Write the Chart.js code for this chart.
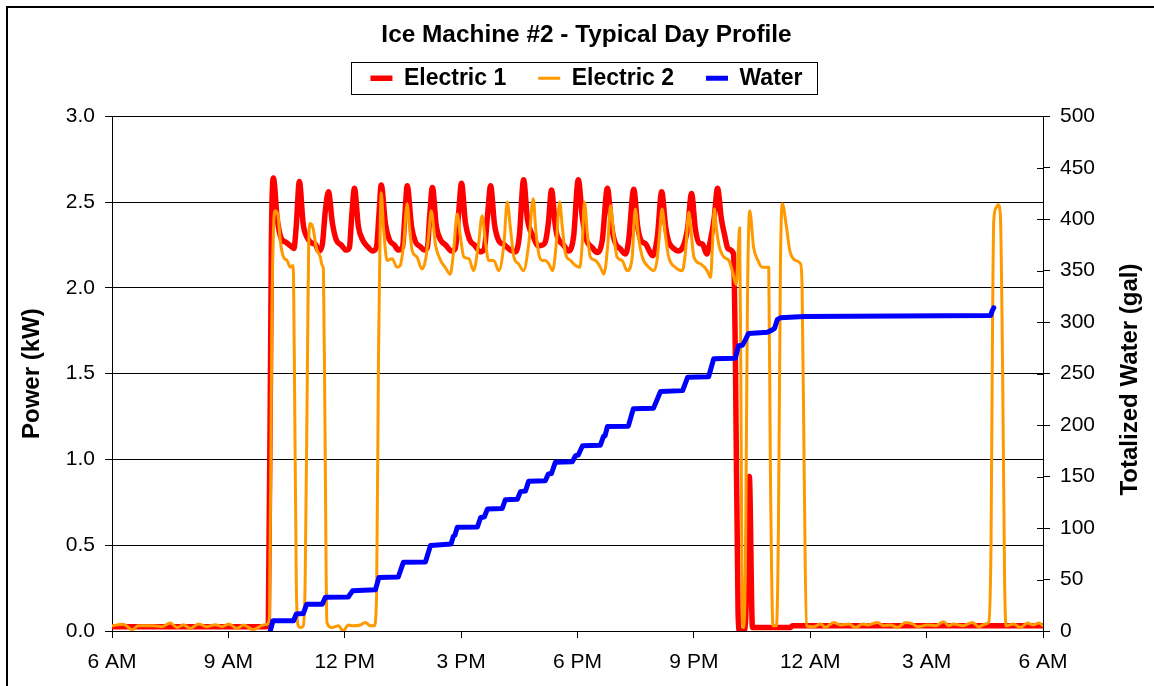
<!DOCTYPE html>
<html>
<head>
<meta charset="utf-8">
<script src="https://cdn.jsdelivr.net/npm/chart.js@4/dist/chart.umd.min.js"></script>
<style>
html,body{margin:0;padding:0;background:#fff;}
canvas{display:block;}
</style>
</head>
<body>
<canvas id="c" width="1154" height="686"></canvas>
<script>
const chartTitle = 'Ice Machine #2 - Typical Day Profile';
const seriesNames = ['Electric 1', 'Electric 2', 'Water'];
const leftAxisTitle = 'Power (kW)';
const rightAxisTitle = 'Totalized Water (gal)';
const xTickLabels = ['6 AM', '9 AM', '12 PM', '3 PM', '6 PM', '9 PM', '12 AM', '3 AM', '6 AM'];

// hours after 6 AM
const e1Hours = [0,2.02,3.98,4.03,4.11,4.16,4.26,4.36,4.49,4.60,4.69,4.75,4.83,4.93,5.04,5.16,5.24,5.33,5.42,5.50,5.58,
  5.68,5.78,5.91,6.04,6.12,6.18,6.25,6.35,6.46,6.59,6.72,6.82,6.88,6.94,7.05,7.15,7.28,7.38,7.49,7.55,7.61,
  7.72,7.82,7.95,8.05,8.13,8.19,8.26,8.36,8.47,8.60,8.75,8.85,8.93,9.01,9.11,9.22,9.34,9.50,9.60,9.68,9.76,
  9.86,9.96,10.12,10.27,10.40,10.50,10.61,10.71,10.86,10.99,11.10,11.18,11.25,11.33,11.43,11.48,11.64,11.77,11.90,12.02,
  12.13,12.23,12.38,12.51,12.64,12.77,12.88,12.96,13.11,13.24,13.32,13.45,13.55,13.63,13.76,13.94,14.06,14.17,
  14.27,14.35,14.48,14.60,14.73,14.84,14.94,15.04,15.14,15.22,15.33,15.43,15.52,15.61,15.71,15.79,15.89,16.02,16.07,
  16.14,16.18,16.28,16.33,16.43,16.51,17.49,17.54,24];
const e1Kw = [0.025,0.025,0.025,0.04,2.30,2.64,2.40,2.29,2.265,2.245,2.23,2.36,2.62,2.37,2.29,2.26,2.255,2.215,2.25,2.45,2.56,
  2.38,2.28,2.25,2.22,2.235,2.42,2.58,2.36,2.28,2.24,2.215,2.24,2.42,2.60,2.37,2.28,2.25,2.22,2.24,2.42,2.595,
  2.36,2.27,2.24,2.22,2.235,2.42,2.585,2.36,2.28,2.25,2.215,2.23,2.42,2.61,2.38,2.28,2.25,2.21,2.23,2.42,2.595,
  2.37,2.28,2.25,2.22,2.21,2.30,2.63,2.40,2.30,2.245,2.25,2.275,2.38,2.57,2.36,2.30,2.25,2.215,2.30,2.63,
  2.40,2.28,2.235,2.206,2.28,2.58,2.36,2.27,2.226,2.197,2.28,2.575,2.36,2.28,2.255,2.187,2.30,2.56,
  2.36,2.27,2.23,2.215,2.245,2.35,2.55,2.34,2.26,2.255,2.197,2.28,2.40,2.58,2.40,2.31,2.226,2.20,1.60,
  0.10,0.00,0.00,0.05,0.90,0.02,0.02,0.03,0.03];

const e2Hours = [0,0.29,0.52,0.68,1.06,1.29,1.50,1.68,1.84,2.02,2.23,2.45,2.66,2.84,3.01,3.22,3.39,3.64,3.90,4.00,4.06,
  4.12,4.17,4.21,4.28,4.34,4.42,4.51,4.60,4.67,4.70,4.75,4.79,4.86,4.93,4.98,5.04,5.07,5.11,5.18,5.27,5.37,5.42,5.45,5.49,5.54,
  5.67,5.84,5.96,6.09,6.22,6.40,6.53,6.66,6.76,6.82,6.87,6.91,6.94,
  7.00,7.09,7.22,7.35,7.43,7.52,7.61,7.67,7.74,7.86,7.99,8.08,8.16,8.23,8.34,8.47,8.59,8.72,8.80,8.90,
  8.98,9.07,9.20,9.32,9.45,9.54,9.63,9.71,9.84,9.97,10.10,10.19,10.27,10.36,10.48,10.61,10.74,10.86,
  10.92,11.00,11.09,11.17,11.26,11.36,11.45,11.54,11.61,11.69,11.82,11.95,12.06,12.12,12.18,
  12.26,12.33,12.46,12.59,12.68,12.78,12.85,12.93,13.02,13.15,13.28,13.41,13.49,13.57,13.67,13.84,13.97,14.05,14.11,14.18,
  14.27,14.35,14.52,14.70,14.78,14.87,14.94,15.00,15.17,15.34,15.43,15.48,15.53,
  15.58,15.64,15.77,15.90,15.99,16.09,16.14,16.18,16.21,16.25,16.28,16.33,16.38,16.44,16.54,16.65,16.76,16.93,16.97,
  17.04,17.13,17.18,17.23,17.28,17.39,17.47,17.62,17.75,17.79,17.85,17.90,
  18.08,18.27,18.39,18.60,18.78,18.99,19.17,19.35,19.50,19.73,19.89,20.07,20.25,20.46,20.64,20.77,21.02,21.23,21.44,
  21.57,21.69,21.93,22.18,22.34,22.52,22.60,22.66,22.70,22.73,22.80,22.84,22.90,22.96,23.01,23.05,
  23.24,23.42,23.60,23.73,23.89,24];
const e2Kw = [0.03,0.04,0.008,0.03,0.03,0.025,0.047,0.02,0.037,0.015,0.041,0.025,0.037,0.025,0.041,0.015,0.035,0.008,0.035,0.04,0.08,
  1.80,2.38,2.45,2.42,2.27,2.18,2.16,2.12,2.13,1.60,0.30,0.04,0.02,0.03,0.30,1.60,2.25,2.375,2.35,2.23,2.18,2.13,2.11,1.20,0.05,
  0.02,0.03,0.00,0.035,0.03,0.035,0.05,0.03,0.03,0.20,1.60,2.30,2.555,
  2.35,2.16,2.17,2.12,2.13,2.26,2.49,2.35,2.215,2.18,2.11,2.16,2.30,2.45,2.25,2.16,2.12,2.08,2.20,2.43,
  2.30,2.18,2.17,2.10,2.26,2.42,2.26,2.16,2.16,2.10,2.25,2.50,2.35,2.18,2.14,2.10,2.25,2.52,
  2.35,2.20,2.16,2.16,2.14,2.10,2.25,2.50,2.35,2.20,2.16,2.13,2.12,2.25,2.50,
  2.30,2.18,2.16,2.12,2.08,2.25,2.48,2.32,2.18,2.16,2.10,2.18,2.46,2.30,2.18,2.12,2.10,2.16,2.30,2.46,
  2.30,2.18,2.12,2.10,2.20,2.44,2.30,2.18,2.14,2.10,2.06,2.25,2.46,
  2.35,2.255,2.18,2.16,2.10,2.02,2.20,2.35,1.50,0.05,0.02,0.40,1.90,2.45,2.235,2.16,2.12,2.12,1.00,
  0.03,0.03,0.60,2.10,2.49,2.35,2.22,2.16,2.14,2.00,0.80,0.03,
  0.025,0.041,0.021,0.05,0.035,0.041,0.021,0.041,0.035,0.05,0.031,0.035,0.021,0.05,0.041,0.025,0.035,0.031,0.054,
  0.031,0.041,0.031,0.05,0.025,0.041,0.05,0.50,1.80,2.39,2.47,2.485,2.43,1.50,0.30,0.03,
  0.041,0.021,0.046,0.035,0.046,0.031];

const waterHours = [4.08,4.15,4.68,4.75,4.93,5.02,5.42,5.50,6.09,6.20,6.79,6.88,7.38,7.51,8.08,8.21,8.74,8.80,8.84,8.90,
  9.42,9.50,9.60,9.68,10.06,10.14,10.45,10.53,10.66,10.74,11.17,11.25,11.33,11.43,11.87,11.95,12.02,12.13,
  12.59,12.67,12.71,12.77,13.31,13.44,13.96,14.14,14.71,14.84,15.38,15.51,16.07,16.15,16.25,16.33,16.41,
  16.90,17.00,17.08,17.15,17.23,17.85,22.65,22.69,22.73];
const waterGal = [0,10,10,16.5,17,26,26,32.7,33,39,40,52,52.5,66.7,67,83,84.6,92,93,100.7,
  101,110,111,118.6,119,127.6,128,135.4,136,145.5,146,152.6,153,164,164.5,170.4,171,180,
  180.5,189,189.5,198.6,199,216,216.5,232.6,233.5,246.6,247,264.4,265,277,277.5,283,289,
  290.3,292,294,302.4,304.3,305.5,306.5,311,314];

const toPts = (xs, ys) => xs.map((x, i) => ({x: x, y: ys[i]}));

const FONT = '"Liberation Sans", Arial, sans-serif';
Chart.defaults.font.family = FONT;
Chart.defaults.color = '#000';

const decorPlugin = {
  id: 'decor',
  afterDraw(chart) {
    const ctx = chart.ctx;
    const area = chart.chartArea;
    ctx.save();
    ctx.strokeStyle = '#000';
    ctx.lineWidth = 2;
    ctx.strokeRect(7, 7, 1200, 720);
    const hb = chart.legend && chart.legend.legendHitBoxes;
    if (hb && hb.length) {
      const first = hb[0], last = hb[hb.length - 1];
      const l = Math.round(first.left - 19) + 0.5;
      const r = Math.round(last.left + last.width + 14) + 0.5;
      const cy = first.top + first.height / 2;
      const t = Math.round(cy - 16) + 0.5;
      ctx.lineWidth = 1;
      ctx.strokeRect(l, t, r - l, 32);
    }
    const y2 = chart.scales.y2;
    ctx.lineWidth = 1;
    ctx.beginPath();
    y2.ticks.forEach(tk => {
      const py = Math.round(y2.getPixelForValue(tk.value)) + 0.5;
      ctx.moveTo(area.right - 6, py);
      ctx.lineTo(area.right, py);
    });
    ctx.stroke();
    ctx.translate(1130, 379.5);
    ctx.rotate(-Math.PI / 2);
    ctx.font = 'bold 24px ' + FONT;
    ctx.fillStyle = '#000';
    ctx.textAlign = 'center';
    ctx.textBaseline = 'middle';
    ctx.fillText(rightAxisTitle, 0, 0);
    ctx.restore();
  }
};

const lineBase = {pointRadius: 0, pointHoverRadius: 0, fill: false,
  borderJoinStyle: 'round', borderCapStyle: 'round'};

new Chart(document.getElementById('c'), {
  type: 'line',
  data: {
    datasets: [
      Object.assign({label: seriesNames[0], data: toPts(e1Hours, e1Kw), yAxisID: 'y',
        borderColor: '#FF0000', backgroundColor: '#FF0000', borderWidth: 5.5, order: 2,
        cubicInterpolationMode: 'monotone'}, lineBase),
      Object.assign({label: seriesNames[1], data: toPts(e2Hours, e2Kw), yAxisID: 'y',
        borderColor: '#FF9900', backgroundColor: '#FF9900', borderWidth: 3, order: 1,
        cubicInterpolationMode: 'monotone'}, lineBase),
      Object.assign({label: seriesNames[2], data: toPts(waterHours, waterGal), yAxisID: 'y2',
        borderColor: '#0000FF', backgroundColor: '#0000FF', borderWidth: 5, order: 0, tension: 0}, lineBase)
    ]
  },
  options: {
    responsive: false,
    animation: false,
    events: [],
    layout: {padding: {top: 7, left: 7, right: -12, bottom: 0}},
    plugins: {
      tooltip: {enabled: false},
      title: {display: true, text: chartTitle, color: '#000',
        font: {size: 24.4, weight: 'bold'}, padding: {top: 13.4, bottom: -14.9}},
      legend: {display: true, position: 'top',
        labels: {usePointStyle: true, pointStyle: 'line', pointStyleWidth: 22, padding: 32,
          color: '#000', font: {size: 23, weight: 'bold'},
          sort: (a, b) => a.datasetIndex - b.datasetIndex}},
      subtitle: {display: true, text: '', weight: 500, font: {size: 1, lineHeight: 1},
        padding: {top: 0, bottom: 15.5}}
    },
    scales: {
      x: {type: 'linear', position: 'bottom', min: 0, max: 24,
        ticks: {stepSize: 3, autoSkip: false, maxRotation: 0, font: {size: 21}, padding: 11.4, color: '#000',
          callback: (v, i) => xTickLabels[i]},
        grid: {drawOnChartArea: false, color: '#000', tickLength: 7},
        border: {color: '#000', width: 1},
        afterFit: s => { s.height = 55; }},
      y: {type: 'linear', position: 'left', min: 0, max: 3,
        ticks: {stepSize: 0.5, font: {size: 21}, padding: 10, color: '#000',
          callback: v => Number(v).toFixed(1)},
        grid: {color: '#000', lineWidth: 1, tickLength: 7},
        border: {color: '#000', width: 1},
        title: {display: true, text: leftAxisTitle, color: '#000',
          font: {size: 24, weight: 'bold'}, padding: {top: 11.4, bottom: 0}},
        afterFit: s => { s.width = 105; }},
      y2: {type: 'linear', position: 'right', min: 0, max: 500,
        ticks: {stepSize: 50, font: {size: 21}, padding: 10, color: '#000'},
        grid: {drawOnChartArea: false, color: '#000', tickLength: 7},
        border: {color: '#000', width: 1},
        afterFit: s => { s.width = 123; }}
    }
  },
  plugins: [decorPlugin]
});
</script>
</body>
</html>
